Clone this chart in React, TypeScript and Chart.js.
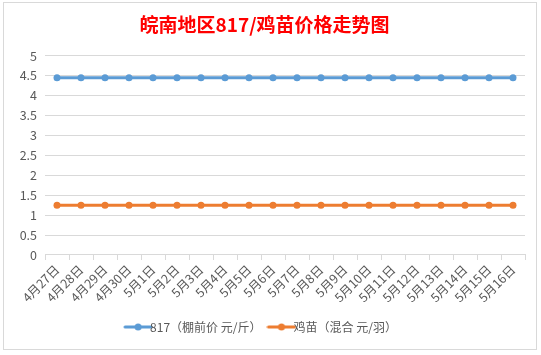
import React, { useEffect, useRef } from "react";
import { Chart, registerables } from "chart.js";

Chart.register(...registerables);

const categories = [
  "4月27日", "4月28日", "4月29日", "4月30日", "5月1日", "5月2日", "5月3日", "5月4日", "5月5日", "5月6日",
  "5月7日", "5月8日", "5月9日", "5月10日", "5月11日", "5月12日", "5月13日", "5月14日", "5月15日", "5月16日",
];
const series817 = [4.45, 4.45, 4.45, 4.45, 4.45, 4.45, 4.45, 4.45, 4.45, 4.45, 4.45, 4.45, 4.45, 4.45, 4.45, 4.45, 4.45, 4.45, 4.45, 4.45];
const seriesChick = [1.25, 1.25, 1.25, 1.25, 1.25, 1.25, 1.25, 1.25, 1.25, 1.25, 1.25, 1.25, 1.25, 1.25, 1.25, 1.25, 1.25, 1.25, 1.25, 1.25];
const seriesNames = ["817（棚前价 元/斤）", "鸡苗（混合 元/羽）"];
const titleText = "皖南地区817/鸡苗价格走势图";
const yTicks = [0, 0.5, 1, 1.5, 2, 2.5, 3, 3.5, 4, 4.5, 5];

const BLUE = "#5b9bd5";
const ORANGE = "#ed7d31";
const FONT = "'Noto Sans CJK SC', 'Noto Sans', sans-serif";

function legendIcon(color: string): HTMLCanvasElement {
  const c = document.createElement("canvas");
  c.width = 30;
  c.height = 10;
  const ctx = c.getContext("2d")!;
  ctx.strokeStyle = color;
  ctx.lineWidth = 3;
  ctx.lineCap = "round";
  ctx.beginPath();
  ctx.moveTo(2, 5);
  ctx.lineTo(28, 5);
  ctx.stroke();
  ctx.fillStyle = color;
  ctx.beginPath();
  ctx.arc(15, 5, 3.5, 0, Math.PI * 2);
  ctx.fill();
  return c;
}

export default function App() {
  const ref = useRef<HTMLCanvasElement | null>(null);
  useEffect(() => {
    if (!ref.current) return;
    const icons = [legendIcon(BLUE), legendIcon(ORANGE)];
    const chart = new Chart(ref.current, {
      type: "line",
      data: {
        labels: categories,
        datasets: [
          {
            label: seriesNames[0],
            data: series817,
            borderColor: BLUE,
            backgroundColor: BLUE,
            borderWidth: 3,
            pointRadius: 3.5,
            pointBackgroundColor: BLUE,
            pointBorderWidth: 0,
          },
          {
            label: seriesNames[1],
            data: seriesChick,
            borderColor: ORANGE,
            backgroundColor: ORANGE,
            borderWidth: 3,
            pointRadius: 3.5,
            pointBackgroundColor: ORANGE,
            pointBorderWidth: 0,
          },
        ],
      },
      options: {
        animation: false,
        responsive: false,
        maintainAspectRatio: false,
        layout: { padding: { left: 0, right: 11, top: 10, bottom: 6 } },
        plugins: {
          title: {
            display: true,
            text: titleText,
            color: "#ff0000",
            font: { family: FONT, size: 19, weight: "bold" },
            padding: { top: 0, bottom: 20 },
          },
          legend: {
            position: "bottom",
            labels: {
              color: "#595959",
              font: { family: FONT, size: 12 },
              usePointStyle: true,
              padding: 14,
              generateLabels: (ch: any) =>
                ch.data.datasets.map((ds: any, i: number) => ({
                  text: ds.label,
                  pointStyle: icons[i],
                  fillStyle: ds.borderColor,
                  strokeStyle: ds.borderColor,
                  fontColor: "#595959",
                  lineWidth: 0,
                  hidden: false,
                  datasetIndex: i,
                })),
            },
          },
          tooltip: { enabled: false },
        },
        scales: {
          x: {
            offset: true,
            grid: { display: true, drawOnChartArea: false, drawTicks: true, tickLength: 5, color: "#d9d9d9", offset: true },
            border: { color: "#d9d9d9" },
            ticks: {
              color: "#595959",
              font: { family: FONT, size: 12.5 },
              minRotation: 45,
              maxRotation: 45,
              autoSkip: false,
              padding: 2,
            },
          },
          y: {
            min: 0,
            max: 5,
            afterBuildTicks: (s: any) => {
              s.ticks = yTicks.map((v) => ({ value: v }));
            },
            afterFit: (s: any) => {
              s.width = 41;
            },
            grid: { color: "#d9d9d9", drawTicks: false },
            border: { display: false },
            ticks: {
              color: "#595959",
              font: { family: FONT, size: 12.5 },
              padding: 8,
              callback: (v: any) => String(v),
            },
          },
        },
      },
    });
    return () => chart.destroy();
  }, []);

  return (
    <div style={{ position: "fixed", left: 0, top: 0, width: 541, height: 355, background: "#ffffff" }}>
      <div
        style={{
          position: "absolute",
          left: 3,
          top: 2,
          width: 532,
          height: 346,
          border: "1px solid #d9d9d9",
          background: "#ffffff",
        }}
      >
        <canvas ref={ref} width={532} height={346} style={{ display: "block" }} />
      </div>
    </div>
  );
}
